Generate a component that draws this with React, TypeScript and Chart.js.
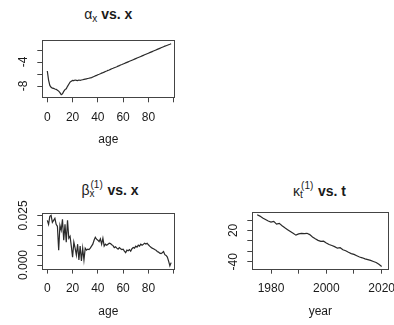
import React, { useEffect, useRef } from 'react';
import { Chart, registerables } from 'chart.js';

Chart.register(...registerables);

const FONT = "'Liberation Sans', Arial, Helvetica, sans-serif";

// alpha_x by age (ages 0..98)
const alphaX = [
  -5.5, -7.0, -7.9, -8.2, -8.35, -8.4, -8.5, -8.55, -8.7, -8.85,
  -9.1, -9.45, -9.3, -8.9, -8.6, -8.45, -8.05, -7.7, -7.35, -7.2,
  -7.05, -7.1, -7.0, -7.05, -7.1, -7.0, -7.05, -7.0, -6.95, -6.9,
  -6.85, -6.8, -6.75, -6.7, -6.65, -6.6, -6.5, -6.4, -6.3, -6.22,
  -6.12, -6.04, -5.95, -5.85, -5.77, -5.68, -5.58, -5.5, -5.4, -5.32,
  -5.22, -5.13, -5.05, -4.95, -4.87, -4.78, -4.68, -4.6, -4.5, -4.42,
  -4.33, -4.24, -4.15, -4.06, -3.97, -3.88, -3.79, -3.7, -3.61, -3.52,
  -3.43, -3.34, -3.25, -3.16, -3.07, -2.98, -2.89, -2.8, -2.71, -2.62,
  -2.53, -2.44, -2.35, -2.26, -2.17, -2.08, -1.99, -1.9, -1.81, -1.72,
  -1.63, -1.54, -1.45, -1.36, -1.28, -1.2, -1.12, -1.04, -0.95,
];

// beta_x^(1) by age (ages 0..98)
const betaX = [
  0.0225, 0.0205, 0.0245, 0.025, 0.0215, 0.0225, 0.0235, 0.0205, 0.0195, 0.0075,
  0.02, 0.0175, 0.023, 0.0125, 0.0205, 0.0115, 0.0225, 0.0135, 0.0145, 0.0095,
  0.004, 0.0115, 0.0085, 0.005, 0.0105, 0.0025, 0.0095, 0.002, 0.0085, 0.0025,
  0.0085, 0.0075, 0.008, 0.0078, 0.0085, 0.0095, 0.0105, 0.0125, 0.014, 0.013,
  0.0125, 0.0118, 0.0132, 0.0105, 0.0135, 0.0095, 0.0105, 0.01, 0.0105, 0.011,
  0.0108, 0.0102, 0.0098, 0.0088, 0.0092, 0.0085, 0.008, 0.0088, 0.0082, 0.0078,
  0.008, 0.007, 0.0062, 0.0075, 0.0072, 0.0078, 0.007, 0.0082, 0.0088, 0.0085,
  0.0095, 0.009, 0.01, 0.0095, 0.0105, 0.01, 0.0104, 0.011, 0.0106, 0.011,
  0.0102, 0.0095, 0.009, 0.0085, 0.0082, 0.0078, 0.0075, 0.0068, 0.0065, 0.006,
  0.0058, 0.0062, 0.0068, 0.0052, 0.0048, 0.004, 0.002, -0.0004, 0.0012,
];

// kappa_t^(1) by year (1975..2020)
const kappaT = [
  50, 47.5, 44, 41, 38, 36, 37.5, 32, 33.5, 29,
  25, 21.5, 18, 14.5, 11, 13.5, 14.5, 14, 14.5, 12,
  7.5, 4, 1, -1, -0.5, -4, -7, -9, -11, -14,
  -13, -17, -19, -22, -24.5, -26, -28.5, -31, -32.5, -34.5,
  -36, -37.5, -39.5, -41.5, -45, -49,
];

const FIRST_AGE = 0;
const FIRST_YEAR = 1975;
const ages = alphaX.map((_, i) => FIRST_AGE + i);
const years = kappaT.map((_, i) => FIRST_YEAR + i);

const ageTicks = [0, 20, 40, 60, 80, 100];
const ageTickLabels = ['0', '20', '40', '60', '80', ''];
const alphaTicks = [-8, -6, -4, -2];
const alphaTickLabels = ['-8', '', '-4', ''];
const betaTicks = [0, 0.005, 0.01, 0.015, 0.02, 0.025];
const betaTickLabels = ['0.000', '', '', '', '', '0.025'];
const kappaTicks = [-40, -20, 0, 20, 40];
const kappaTickLabels = ['-40', '', '', '20', ''];
const yearTicks = [1980, 1990, 2000, 2010, 2020];
const yearTickLabels = ['1980', '', '2000', '', '2020'];

const TICK_LEN = 5;
const Y_LABEL_OFFSET = 18.5;
const INK = '#1a1a1a';

function widestLabel(labels: string[]): number {
  const c = document.createElement('canvas').getContext('2d');
  if (!c) return 0;
  c.font = `12px ${FONT}`;
  return Math.max(...labels.map((l) => c.measureText(l).width));
}

const boxPlugin = {
  id: 'rbox',
  afterDraw(chart: any) {
    const { ctx, chartArea: a } = chart;
    ctx.save();
    ctx.strokeStyle = '#444';
    ctx.lineWidth = 1;
    const l = Math.round(a.left) + 0.5;
    const t = Math.round(a.top) + 0.5;
    const r = Math.round(a.right) + 0.5;
    const b = Math.round(a.bottom) + 0.5;
    ctx.strokeRect(l, t, r - l, b - t);
    ctx.restore();
  },
};

type PanelProps = {
  left: number; top: number; width: number; height: number;
  box: { l: number; t: number; r: number; b: number };
  xs: number[]; ys: number[];
  xMin: number; xMax: number; yMin: number; yMax: number;
  xTicks: number[]; xLabels: string[];
  yTicks: number[]; yLabels: string[];
  xTitle: string; xTitlePad: number;
};

function Panel(p: PanelProps) {
  const ref = useRef<HTMLCanvasElement>(null);
  useEffect(() => {
    if (!ref.current) return;
    const area = { l: p.box.l - p.left, t: p.box.t - p.top, r: p.box.r - p.left, b: p.box.b - p.top };
    const yPad = Y_LABEL_OFFSET - TICK_LEN - widestLabel(p.yLabels) / 2;
    const font = { family: FONT, size: 12 };
    const chart = new Chart(ref.current, {
      type: 'line',
      data: {
        datasets: [{
          data: p.xs.map((x, i) => ({ x, y: p.ys[i] })),
          borderColor: '#2a2a2a',
          borderWidth: 1.2,
          pointRadius: 0,
          tension: 0,
          fill: false,
        }],
      },
      options: {
        animation: false,
        responsive: false,
        devicePixelRatio: 1,
        layout: { padding: { left: 0, top: area.t, right: p.width - area.r, bottom: 0 } },
        plugins: { legend: { display: false }, tooltip: { enabled: false }, title: { display: false } },
        scales: {
          x: {
            type: 'linear',
            position: 'bottom',
            min: p.xMin,
            max: p.xMax,
            afterBuildTicks: (s: any) => { s.ticks = p.xTicks.map((v) => ({ value: v })); },
            afterFit: (s: any) => { s.height = p.height - area.b; s.paddingLeft = 0; s.paddingRight = 0; },
            ticks: {
              autoSkip: false, minRotation: 0, maxRotation: 0, padding: 8, font, color: INK,
              callback: (_v: any, i: number) => p.xLabels[i],
            },
            grid: { drawOnChartArea: false, drawTicks: true, tickLength: TICK_LEN, color: '#444', lineWidth: 1 },
            border: { display: false },
            title: { display: true, text: p.xTitle, font, color: INK, padding: { top: 0, bottom: p.xTitlePad } },
          },
          y: {
            type: 'linear',
            position: 'left',
            min: p.yMin,
            max: p.yMax,
            afterBuildTicks: (s: any) => { s.ticks = p.yTicks.map((v) => ({ value: v })); },
            afterFit: (s: any) => { s.width = area.l; s.paddingTop = 0; s.paddingBottom = 0; },
            ticks: {
              autoSkip: false, minRotation: 90, maxRotation: 90, crossAlign: 'center', padding: yPad, font, color: INK,
              callback: (_v: any, i: number) => p.yLabels[i],
            },
            grid: { drawOnChartArea: false, drawTicks: true, tickLength: TICK_LEN, color: '#444', lineWidth: 1 },
            border: { display: false },
          },
        },
      } as any,
      plugins: [boxPlugin],
    });
    return () => chart.destroy();
  }, []);
  return (
    <canvas
      ref={ref}
      width={p.width}
      height={p.height}
      style={{ position: 'absolute', left: p.left, top: p.top, width: p.width, height: p.height }}
    />
  );
}

const subStyle: React.CSSProperties = { fontSize: 10, fontWeight: 'normal', position: 'relative', top: 3 };

function Stack({ sup, sub }: { sup: string; sub: string }) {
  return (
    <span style={{ position: 'relative', display: 'inline-block', width: 14, height: 0, fontWeight: 'normal', fontSize: 10, lineHeight: '10px' }}>
      <span style={{ position: 'absolute', left: 1, top: -15 }}>{sup}</span>
      <span style={{ position: 'absolute', left: 0, top: -6 }}>{sub}</span>
    </span>
  );
}

function Title({ cx, baseline, children }: { cx: number; baseline: number; children: React.ReactNode }) {
  return (
    <div
      style={{
        position: 'absolute', left: cx - 100, width: 200, top: baseline - 13, textAlign: 'center',
        font: `bold 14px ${FONT}`, lineHeight: '16px', whiteSpace: 'nowrap', color: INK,
      }}
    >
      {children}
    </div>
  );
}

export default function App() {
  return (
    <div style={{ position: 'fixed', left: 0, top: 0, width: 394, height: 325, background: '#fff', overflow: 'hidden' }}>
      <Title cx={108.3} baseline={19}>
        <span style={{ fontWeight: 'normal' }}>α</span>
        <span style={subStyle}>x</span> vs. x
      </Title>
      <Title cx={110} baseline={195.3}>
        <span style={{ fontWeight: 'normal' }}>β</span>
        <Stack sup="(1)" sub="x" />
        {' '}vs. x
      </Title>
      <Title cx={319.5} baseline={195.5}>
        <span style={{ fontWeight: 'normal' }}>κ</span>
        <Stack sup="(1)" sub="t" />
        {' '}vs. t
      </Title>
      <Panel
        left={0} top={0} width={197} height={162}
        box={{ l: 42.3, t: 40, r: 174.3, b: 97.3 }}
        xs={ages} ys={alphaX}
        xMin={-3.96} xMax={100.5} yMin={-9.88} yMax={-0.33}
        xTicks={ageTicks} xLabels={ageTickLabels}
        yTicks={alphaTicks} yLabels={alphaTickLabels}
        xTitle="age" xTitlePad={14.7}
      />
      <Panel
        left={0} top={162} width={197} height={163}
        box={{ l: 42.3, t: 212.8, r: 174.3, b: 268.6 }}
        xs={ages} ys={betaX}
        xMin={-3.96} xMax={100.5} yMin={-0.0018} yMax={0.0263}
        xTicks={ageTicks} xLabels={ageTickLabels}
        yTicks={betaTicks} yLabels={betaTickLabels}
        xTitle="age" xTitlePad={6}
      />
      <Panel
        left={197} top={162} width={197} height={163}
        box={{ l: 252.3, t: 212, r: 388.3, b: 268.7 }}
        xs={years} ys={kappaT}
        xMin={1973.24} xMax={2022.4} yMin={-53.4} yMax={55.4}
        xTicks={yearTicks} xLabels={yearTickLabels}
        yTicks={kappaTicks} yLabels={kappaTickLabels}
        xTitle="year" xTitlePad={6}
      />
    </div>
  );
}
